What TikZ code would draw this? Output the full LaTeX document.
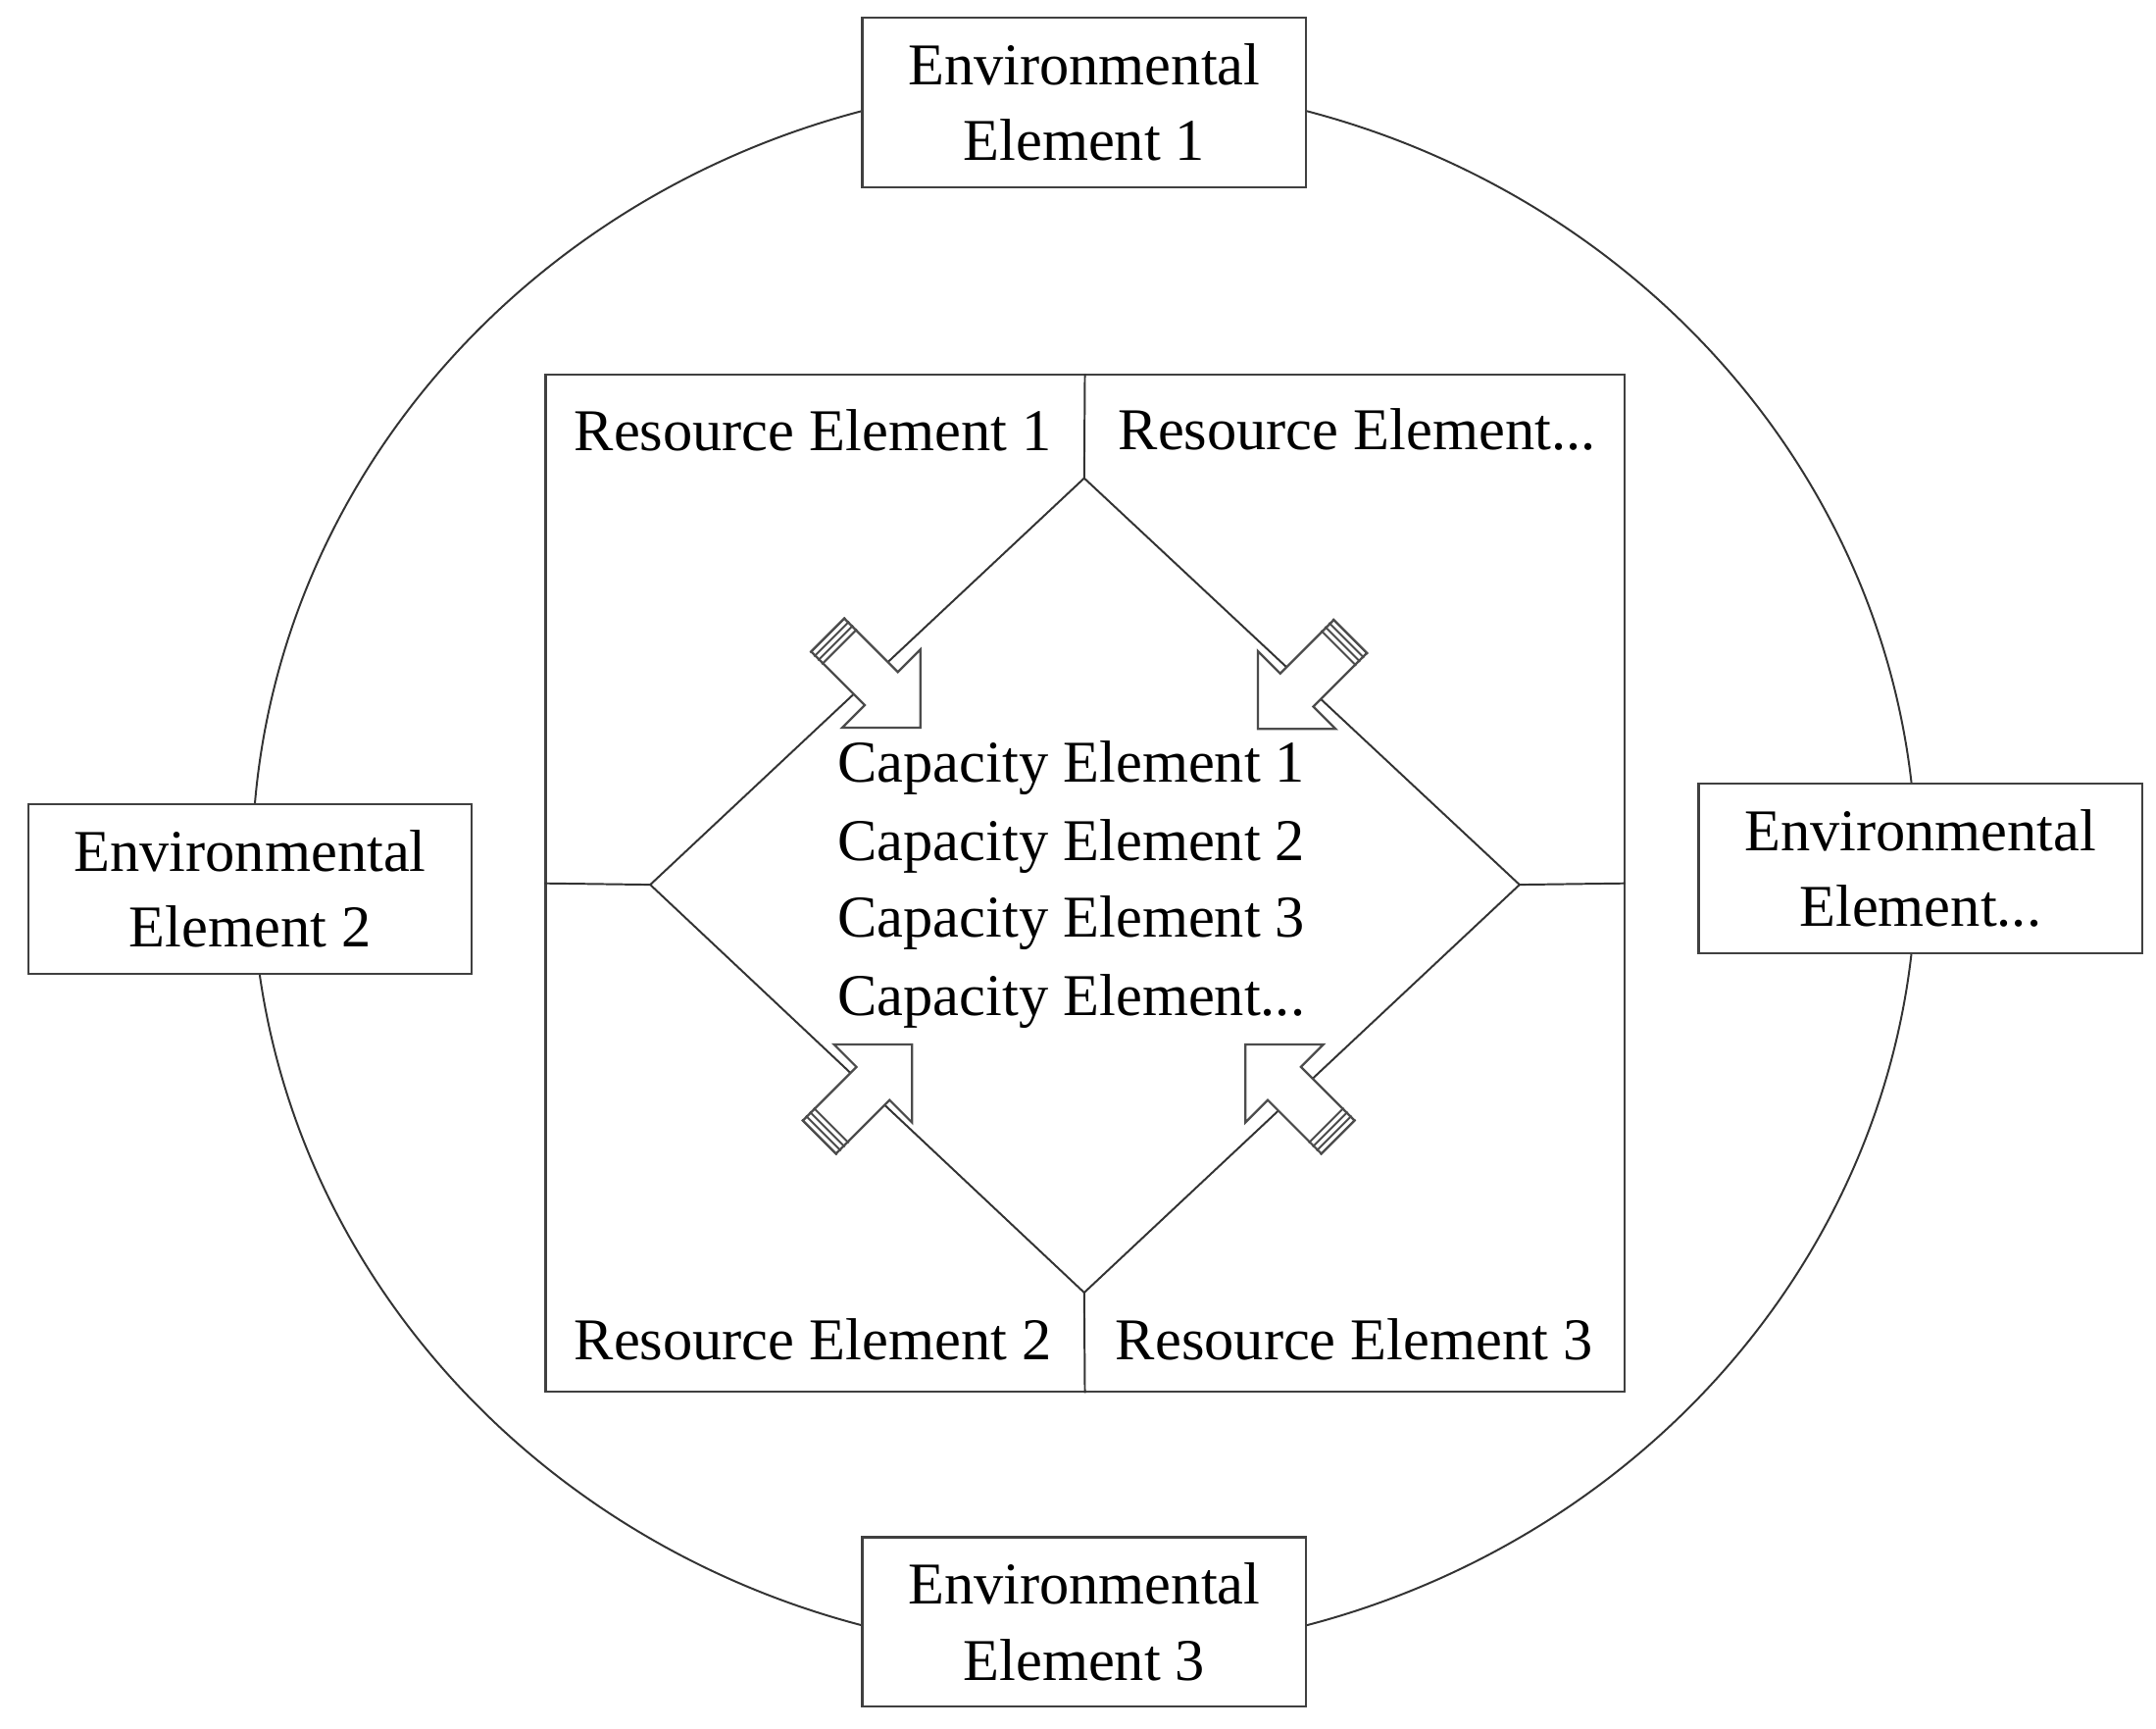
\documentclass[tikz,border=0pt]{standalone}
\usepackage{fontspec}
\setmainfont{Liberation Serif}
\begin{document}
\begin{tikzpicture}[x=1pt,y=-1pt,
  env/.style={draw=black!75,line width=1.6pt,fill=white,minimum width=322pt,minimum height=123pt,align=center,inner sep=0pt,font=\fontsize{43}{55}\selectfont},
  lbl/.style={inner sep=0pt,font=\fontsize{43}{46}\selectfont},
  ln/.style={draw=black!80,line width=1.4pt},
  pics/blk/.style={code={
    \draw[line width=1.6pt,draw=black!70,fill=white,line join=miter] (0,0) -- (-40,40) -- (-40,17) -- (-95,17) -- (-95,-17) -- (-40,-17) -- (-40,-40) -- cycle;
    \foreach \d in {-95,-91,-87,-83} \draw[line width=1.4pt,black!70] (\d,-18) -- (\d,18);
  }}]
\useasboundingbox (0,0) rectangle (1565,1254);
\draw[ln] (787,630) ellipse [x radius=604, y radius=570];
% inner square
\node[draw=black!75,line width=1.6pt,minimum width=783pt,minimum height=738pt,inner sep=0pt] (sq) at (787.5,641) {};
\coordinate (dt) at (787,347); \coordinate (dl) at (472,642);
\coordinate (db) at (787,938); \coordinate (dr) at (1103,642);
\draw[ln] (dt) -- (dr) -- (db) -- (dl) -- cycle;
\draw[ln] (dt) -- (sq.north);
\draw[ln] (db) -- (sq.south);
\draw[ln] (dl) -- (sq.west);
\draw[ln] (dr) -- (sq.east);
% arrows
\pic[rotate=-45] at (668,528) {blk};
\pic[rotate=-135] at (913,529) {blk};
\pic[rotate=45] at (662,758) {blk};
\pic[rotate=135] at (904,758) {blk};
% env boxes
\node[env] (e1) at (787,74.5) {Environmental\\Element 1};
\node[env] (e2) at (181.5,645) {Environmental\\Element 2};
\node[env] (e4) at (1394,630) {Environmental\\Element...};
\node[env] (e3) at (787,1177) {Environmental\\Element 3};
% labels
\node[lbl] (r1) at (590,312) {Resource Element 1};
\node[lbl] (r4) at (985,312) {Resource Element...};
\node[lbl] (r2) at (590,972) {Resource Element 2};
\node[lbl] (r3) at (983,972) {Resource Element 3};
\node[lbl,anchor=west] (c1) at (608,557) {Capacity Element 1};
\node[lbl,anchor=west] (c2) at (608,614) {Capacity Element 2};
\node[lbl,anchor=west] (c3) at (608,670) {Capacity Element 3};
\node[lbl,anchor=west] (c4) at (608,727) {Capacity Element...};
\end{tikzpicture}
\end{document}
